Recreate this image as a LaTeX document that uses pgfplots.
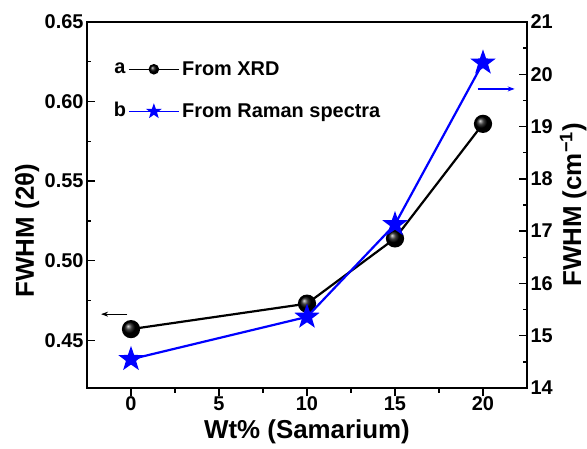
\documentclass[border=0pt]{standalone}
\usepackage{fontspec}
\setmainfont{Liberation Sans}
\usepackage{pgfplots}
\pgfplotsset{compat=1.18}
\usetikzlibrary{arrows.meta}

% filled five-pointed star
\pgfdeclareplotmark{fstar}{%
  \pgfpathmoveto{\pgfpointpolar{90}{\pgfplotmarksize}}%
  \pgfpathlineto{\pgfpointpolar{126}{0.4*\pgfplotmarksize}}%
  \pgfpathlineto{\pgfpointpolar{162}{\pgfplotmarksize}}%
  \pgfpathlineto{\pgfpointpolar{198}{0.4*\pgfplotmarksize}}%
  \pgfpathlineto{\pgfpointpolar{234}{\pgfplotmarksize}}%
  \pgfpathlineto{\pgfpointpolar{270}{0.4*\pgfplotmarksize}}%
  \pgfpathlineto{\pgfpointpolar{306}{\pgfplotmarksize}}%
  \pgfpathlineto{\pgfpointpolar{342}{0.4*\pgfplotmarksize}}%
  \pgfpathlineto{\pgfpointpolar{18}{\pgfplotmarksize}}%
  \pgfpathlineto{\pgfpointpolar{54}{0.4*\pgfplotmarksize}}%
  \pgfpathclose
  \pgfusepathqfillstroke
}

\begin{document}
\begin{tikzpicture}
\path[use as bounding box] (-87bp,-61bp) rectangle (500bp,388bp);
\pgfplotsset{
  every axis/.append style={
    scale only axis, width=440bp, height=366bp,
    at={(0,0)}, anchor=south west,
    xmin=-2.5, xmax=22.5,
    axis line style={line width=1.8bp},
    tick style={line width=1.4bp, black},
    major tick length=8bp, minor tick length=4.5bp,
    tick align=inside,
    ticklabel style={font=\fontsize{20}{24}\selectfont\bfseries},
    label style={font=\fontsize{26}{30}\selectfont\bfseries},
    /pgf/number format/assume math mode=true,
    clip=false,
  },
}
\begin{axis}[
  ymin=0.42, ymax=0.65,
  ytick={0.45,0.50,0.55,0.60,0.65},
  minor y tick num=1,
  xtick={0,5,10,15,20},
  minor x tick num=1,
  xtick pos=bottom, ytick pos=left,
  major x tick style={yshift=-8bp},
  minor x tick style={yshift=-4.5bp},
  xticklabel style={yshift=-5bp},
  yticklabel style={/pgf/number format/.cd, fixed, fixed zerofill, precision=2},
  xlabel={Wt\% (Samarium)},
  ylabel={FWHM (2θ)},
  ylabel style={at={(axis description cs:-0.136,0.43)}, anchor=center},
  xlabel style={at={(axis description cs:0.5,-0.121)}, anchor=center},
]
\addplot[black, line width=2.2bp, mark=ball, mark size=8bp, mark options={ball color=black}]
  coordinates {(0,0.457) (10,0.473) (15,0.514) (20,0.586)};
\draw[-{Stealth[length=7bp,width=5bp]}, line width=1.2bp] (axis cs:-0.2,0.4664) -- (axis cs:-1.7,0.4664);
\end{axis}
\begin{axis}[
  ymin=14, ymax=21,
  ytick={14,15,...,21},
  minor y tick num=1,
  axis x line=none,
  axis y line*=right,
  tick align=inside,
  ylabel={FWHM (cm\textsuperscript{−1})},
  ylabel style={at={(axis description cs:1.105,0.5)}, anchor=center, rotate=0},
  legend image code/.code={\draw[mark repeat=2,mark phase=2,#1] plot coordinates {(0bp,0bp) (25bp,0bp) (50bp,0bp)};},
  legend style={at={(axis description cs:0.093,0.899)}, anchor=north west,
    draw=none, fill=none, font=\fontsize{20}{23}\selectfont\bfseries,
    row sep=22bp, inner sep=0pt, nodes={inner sep=2.5bp}},
  legend cell align=left,
]
\addlegendimage{black, line width=1.5bp, mark=ball, mark size=4.5bp, mark options={ball color=black}}
\addlegendentry{From XRD}
\addlegendimage{blue, line width=1.5bp, mark=fstar, mark size=6bp, mark options={fill=blue, draw=blue}}
\addlegendentry{From Raman spectra}
\addplot[blue, line width=2.2bp, mark=fstar, mark size=10bp, mark options={fill=blue, draw=blue}, forget plot]
  coordinates {(0,14.55) (10,15.36) (15,17.13) (20,20.22)};
\draw[blue, -{Stealth[length=7bp,width=5bp]}, line width=1.2bp] (axis cs:19.7,19.72) -- (axis cs:21.8,19.72);
\node[font=\fontsize{20}{23}\selectfont\bfseries] at (axis description cs:0.075,0.874) {a};
\node[font=\fontsize{20}{23}\selectfont\bfseries] at (axis description cs:0.075,0.76) {b};
\end{axis}
\end{tikzpicture}
\end{document}
